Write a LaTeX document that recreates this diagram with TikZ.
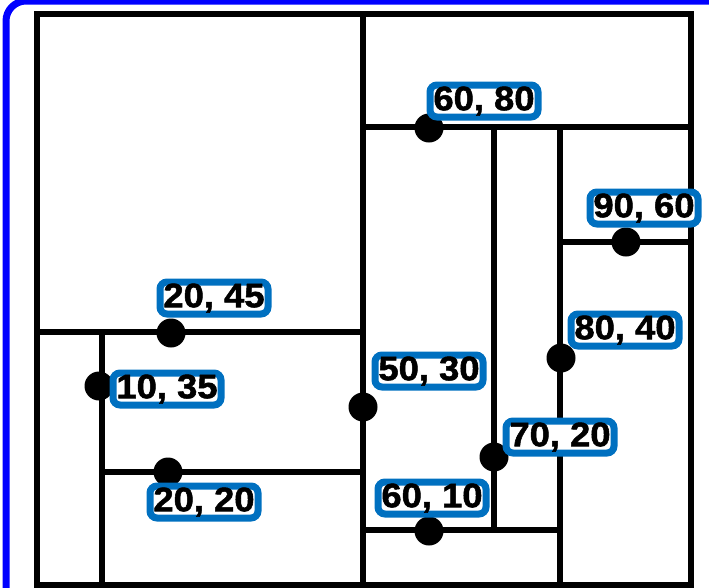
\documentclass[tikz,border=0pt]{standalone}
\usepackage{fontspec}
\setmainfont{Liberation Sans}
\newfontfamily\tagfont[FakeStretch=1.07, FakeBold=1.5]{Liberation Sans Bold}
\usepackage{xcolor}
\usepackage{tikz}
\definecolor{frameblue}{RGB}{0,0,255}
\definecolor{tagblue}{RGB}{0,112,192}
\tikzset{
    split/.style={line width=5.5pt},
    pt/.style={circle, fill=black, inner sep=0pt, minimum size=29pt},
    tag/.style={draw=tagblue, fill=white, line width=7pt, rounded corners=7pt,
        inner xsep=1pt, inner ysep=0pt, minimum height=32pt, minimum width=108pt,
        font=\fontsize{34}{34}\selectfont\tagfont}
}

\begin{document}
\begin{tikzpicture}[x=1pt, y=-1pt]
    \useasboundingbox (0,0) rectangle (709,587);
    \draw[frameblue, line width=7pt, rounded corners=20pt] (6,1) rectangle (760,640);
    \draw[split] (37,14) rectangle (691,585);
    \foreach \a/\b/\c/\d in {363/14/363/585, 37/332/363/332, 102/332/102/585,
        102/472/363/472, 363/127/691/127, 494/127/494/530, 560/127/560/585,
        363/530/560/530, 560/242/691/242} {
        \draw[split] (\a,\b) -- (\c,\d);
    }
    \foreach \n/\x/\y/\lx/\ly/\t in {a/363/407/429/371/{50, 30}, b/171/333/214/298/{20, 45},
        c/99/386/167/389/{10, 35}, d/168/472/204/502/{20, 20}, e/429/128/484/101/{60, 80},
        f/494/457/560/437/{70, 20}, g/561/358/625/330/{80, 40}, h/429/531/432/498/{60, 10},
        i/626/242/644/208/{90, 60}} {
        \node[pt] (p\n) at (\x,\y) {};
        \node[tag] (t\n) at (\lx,\ly) {\t};
    }
\end{tikzpicture}
\end{document}
